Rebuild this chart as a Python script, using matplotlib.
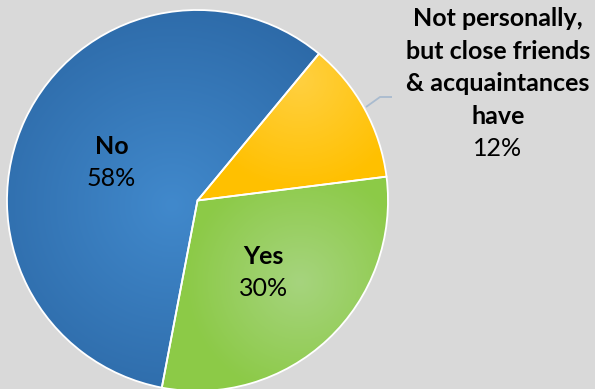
import numpy as np
import matplotlib
matplotlib.use("Agg")
import matplotlib.pyplot as plt
from matplotlib.colors import to_rgb

# Survey answers
categories = ["Not personally,\nbut close friends\n& acquaintances\nhave", "Yes", "No"]
shares = [12, 30, 58]

# Slice shading: (inner colour, outer colour)
inner_colors = ["#ffd040", "#a6d47e", "#4189cc"]
outer_colors = ["#ffc000", "#8cca47", "#2d6aa8"]

W, H = 595, 389
BG = "#d9d9d9"

fig = plt.figure(figsize=(W / 100, H / 100), dpi=100, facecolor=BG)
ax = fig.add_axes([0, 0, 1, 1])
ax.set_facecolor(BG)

cx, cy, r = 197.5, 200.5, 190.5  # pie centre/radius, pixel coords from top-left


def fy(y):
    return H - y


wedges, _ = ax.pie(
    shares,
    center=(cx, fy(cy)),
    radius=r,
    startangle=50.4,
    counterclock=False,
    wedgeprops=dict(facecolor="none", edgecolor="white", linewidth=1.3),
    frame=False,
)
for w in wedges:
    w.set_zorder(3)

# radial shading for each slice
gx, gy = np.meshgrid(np.arange(W) + 0.5, np.arange(H) + 0.5)
grad_centres = [(300, 80, 110), (300, 282, 115), (172, 205, 210)]
for w, c_in, c_out, (gcx, gcy, gr) in zip(wedges, inner_colors, outer_colors, grad_centres):
    t = np.clip(np.hypot(gx - gcx, gy - gcy) / gr, 0, 1)[..., None]
    a = np.array(to_rgb(c_in))
    b = np.array(to_rgb(c_out))
    img = a + (b - a) * t
    im = ax.imshow(img, extent=(0, W, 0, H), origin="upper", zorder=2, interpolation="bilinear")
    im.set_clip_path(w)

ax.set_xlim(0, W)
ax.set_ylim(0, H)
ax.set_aspect("equal")
ax.axis("off")

font = "Lato"
fs = 18

# labels inside the slices
ax.text(112, fy(146), categories[2], ha="center", va="center", fontsize=fs,
        fontweight="bold", family=font, zorder=5)
ax.text(111, fy(178), f"{shares[2]}%", ha="center", va="center", fontsize=fs,
        family=font, zorder=5)
ax.text(263, fy(257), categories[1], ha="center", va="center", fontsize=fs,
        fontweight="bold", family=font, zorder=5)
ax.text(264, fy(289), f"{shares[1]}%", ha="center", va="center", fontsize=fs,
        family=font, zorder=5)

# outside label with leader line
line_y = [18, 51, 83, 116]
for txt, y in zip(categories[0].split("\n"), line_y):
    ax.text(498, fy(y), txt, ha="center", va="center", fontsize=fs,
            fontweight="bold", family=font, zorder=5)
ax.text(498, fy(148), f"{shares[0]}%", ha="center", va="center", fontsize=fs,
        family=font, zorder=5)
ax.plot([366, 380, 392], [fy(107), fy(97), fy(97)], color="#a9bbcf", lw=1.3,
        zorder=4, solid_capstyle="butt")

fig.savefig("out.png", dpi=100, facecolor=BG)
